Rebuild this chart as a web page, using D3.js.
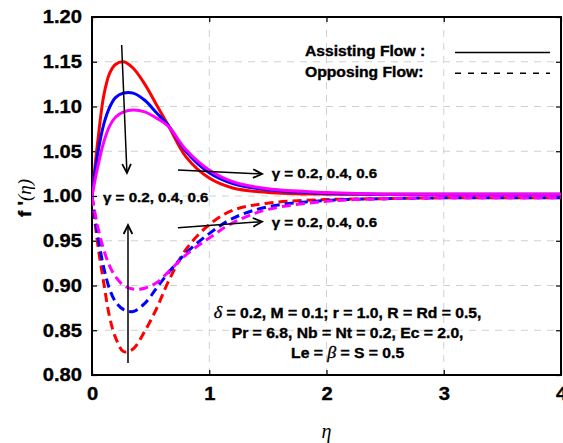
<!DOCTYPE html>
<html><head><meta charset="utf-8">
<script src="https://cdn.jsdelivr.net/npm/d3@7"></script>
<style>
body{margin:0;background:#fff;}
svg{display:block;font-family:"Liberation Sans",Arial,sans-serif;}
.heavy{stroke:#000;stroke-width:0.35px;paint-order:stroke;}
</style></head><body>
<svg id="c" width="563" height="443"></svg>
<script>
const eta = [0,0.05,0.1,0.15,0.2,0.27,0.35,0.45,0.55,0.65,0.8,1.0,1.2,1.5,2.0,2.5,3.0,4.0];
const assistRed  = [1.000,1.062,1.112,1.137,1.147,1.150,1.143,1.125,1.102,1.079,1.044,1.020,1.009,1.004,1.002,1.002,1.002,1.002];
const assistBlue = [1.000,1.048,1.080,1.099,1.110,1.115,1.115,1.107,1.093,1.079,1.050,1.026,1.014,1.007,1.003,1.002,1.002,1.002];
const assistMag  = [1.000,1.033,1.060,1.078,1.088,1.094,1.096,1.094,1.087,1.078,1.052,1.029,1.016,1.008,1.004,1.002,1.002,1.002];
const opposRed   = [1.000,0.945,0.903,0.865,0.842,0.826,0.829,0.849,0.874,0.904,0.940,0.968,0.984,0.992,0.996,0.997,0.998,0.998];
const opposBlue  = [1.000,0.955,0.920,0.896,0.882,0.873,0.871,0.880,0.897,0.914,0.936,0.958,0.975,0.988,0.995,0.997,0.998,0.998];
const opposMag   = [0.999,0.965,0.940,0.922,0.910,0.900,0.896,0.897,0.903,0.915,0.934,0.953,0.970,0.985,0.994,0.997,0.998,0.998];
const xTicks = [0,1,2,3,4];
const yTicks = [0.80,0.85,0.90,0.95,1.00,1.05,1.10,1.15,1.20];
const seriesColors = ["#ff0000","#0000ff","#ff00ff"];
const gammaLabel = "γ = 0.2, 0.4, 0.6";
const legendLabels = ["Assisting Flow :","Opposing Flow:"];
const paramLines = [
  [["δ","m"],[" = 0.2, M = 0.1; r = 1.0, R = Rd = 0.5,","t"]],
  [["Pr = 6.8, Nb = Nt = 0.2, Ec = 2.0,","t"]],
  [["Le = ","t"],["β","m"],[" = S = 0.5","t"]]
];

const svg = d3.select("#c");
const L=92,R=561,T=17,B=375;
const x = d3.scaleLinear().domain([0,4]).range([L,R]);
const y = d3.scaleLinear().domain([0.8,1.2]).range([B,T]);
const SX = 1.12; // horizontal stretch of the reference lettering

function stretch(sel){
  sel.each(function(){
    const t=d3.select(this), ax=+t.attr("x")||0;
    t.attr("transform",`translate(${ax*(1-SX)},0) scale(${SX},1)`);
  });
}

// grid
const g = svg.append("g");
g.selectAll(".gx").data(xTicks.slice(1,-1)).join("line")
 .attr("x1",d=>x(d)).attr("x2",d=>x(d)).attr("y1",T).attr("y2",B)
 .attr("stroke","#d0d0d0").attr("stroke-width",1).attr("stroke-dasharray","7,6");
g.selectAll(".gy").data(yTicks.slice(1,-1)).join("line")
 .attr("x1",L).attr("x2",R).attr("y1",d=>y(d)).attr("y2",d=>y(d))
 .attr("stroke","#d0d0d0").attr("stroke-width",1).attr("stroke-dasharray","7,6");

// axes
const tickFont = '18px';
const xa = svg.append("g").attr("transform",`translate(0,${B})`)
 .call(d3.axisBottom(x).tickValues(xTicks).tickFormat(d3.format("d")).tickSizeInner(-5).tickSizeOuter(0).tickPadding(12));
const ya = svg.append("g").attr("transform",`translate(${L},0)`)
 .call(d3.axisLeft(y).tickValues(yTicks).tickFormat(d3.format(".2f")).tickSizeInner(-5).tickSizeOuter(0).tickPadding(10));
svg.append("g").attr("transform",`translate(0,${T})`)
 .call(d3.axisTop(x).tickValues(xTicks).tickFormat("").tickSizeInner(-5).tickSizeOuter(0));
svg.append("g").attr("transform",`translate(${R},0)`)
 .call(d3.axisRight(y).tickValues(yTicks).tickFormat("").tickSizeInner(-5).tickSizeOuter(0));
svg.selectAll(".domain").remove();
svg.selectAll(".tick line").attr("stroke","#000").attr("stroke-width",1.2);
[xa,ya].forEach(a=>a.selectAll("text").attr("font-size",tickFont).attr("font-weight","bold")
  .attr("font-family","'Liberation Sans',Arial,sans-serif").attr("fill","#000").attr("class","heavy").call(stretch));
svg.append("rect").attr("x",L).attr("y",T).attr("width",R-L).attr("height",B-T)
 .attr("fill","none").attr("stroke","#000").attr("stroke-width",2);

// curves
const line = d3.line().x((d,i)=>x(eta[i])).y(d=>y(d)).curve(d3.curveCatmullRom.alpha(0.5));
svg.append("clipPath").attr("id","cp").append("rect").attr("x",L).attr("y",T).attr("width",R-L).attr("height",B-T);
const cg = svg.append("g").attr("clip-path","url(#cp)");
[opposRed,opposBlue,opposMag].forEach((s,i)=>cg.append("path").attr("d",line(s)).attr("fill","none")
  .attr("stroke",seriesColors[i]).attr("stroke-width",3).attr("stroke-dasharray","9,5"));
[assistRed,assistBlue,assistMag].forEach((s,i)=>cg.append("path").attr("d",line(s)).attr("fill","none")
  .attr("stroke",seriesColors[i]).attr("stroke-width",3));

// arrows
const arrows = [
  {x1:0.253,y1:1.1687,x2:0.298,y2:1.0257},
  {x1:0.307,y1:0.8134,x2:0.307,y2:0.9676},
  {x1:0.733,y1:1.029,x2:1.45,y2:1.0246},
  {x1:0.733,y1:0.9646,x2:1.45,y2:0.9713}
];
arrows.forEach(a=>{
  const X1=x(a.x1),Y1=y(a.y1),X2=x(a.x2),Y2=y(a.y2);
  svg.append("line").attr("x1",X1).attr("y1",Y1).attr("x2",X2).attr("y2",Y2)
   .attr("stroke","#000").attr("stroke-width",1.5);
  const ang=Math.atan2(Y2-Y1,X2-X1), len=10, w=0.45;
  const p1=[X2-len*Math.cos(ang-w),Y2-len*Math.sin(ang-w)];
  const p2=[X2-len*Math.cos(ang+w),Y2-len*Math.sin(ang+w)];
  svg.append("path").attr("d",`M${p1}L${X2},${Y2}L${p2}`).attr("fill","none")
   .attr("stroke","#000").attr("stroke-width",1.8);
});
const gl = [{x:0.094,y:0.9992},{x:1.533,y:1.0255},{x:1.533,y:0.9713}];
gl.forEach(p=>svg.append("text").attr("x",x(p.x)).attr("y",y(p.y)).attr("dy","0.36em").attr("class","heavy")
  .attr("font-size","13.5px").attr("font-weight","bold").text(gammaLabel).call(stretch));

// legend
const lg = svg.append("g");
legendLabels.forEach((t,i)=>{
  lg.append("text").attr("x",305).attr("y",50.5+i*21.5).attr("dy","0.36em").attr("font-size","14px").attr("class","heavy")
   .attr("font-weight","bold").text(t).call(stretch);
  lg.append("line").attr("x1",455).attr("x2",550).attr("y1",52.5+i*20.8).attr("y2",52.5+i*20.8)
   .attr("stroke","#000").attr("stroke-width",1.5).attr("stroke-dasharray",i?"6,7":null);
});

// params
const pv=[0.8696,0.8473,0.8249];
paramLines.forEach((ln,i)=>{
  const t=svg.append("text").attr("x",x(2.18)).attr("y",y(pv[i])).attr("dy","0.36em").attr("class","heavy")
   .attr("text-anchor","middle").attr("font-size","14px").attr("font-weight","bold");
  ln.forEach(([s,k])=>{
    const ts=t.append("tspan").text(s);
    if(k==="m") ts.attr("font-family","'Liberation Serif',serif").attr("font-style","italic").attr("font-weight","normal").attr("font-size","16px");
  });
  t.call(stretch);
});

// axis labels
svg.append("text").attr("x",x(2)).attr("y",432).attr("dy","0.3em").attr("text-anchor","middle")
 .attr("font-family","'Liberation Serif',serif").attr("font-style","italic").attr("font-size","20px").text("η");
const yl=svg.append("text").attr("transform","translate(24,198) rotate(-90)").attr("text-anchor","middle")
 .attr("dy","0.36em").attr("font-size","19px").attr("font-weight","bold").attr("class","heavy");
yl.append("tspan").text("f '");
yl.append("tspan").attr("font-family","'Liberation Serif',serif").attr("font-weight","normal").attr("font-style","italic").attr("stroke-width",0).text("(η)");
</script></body></html>
